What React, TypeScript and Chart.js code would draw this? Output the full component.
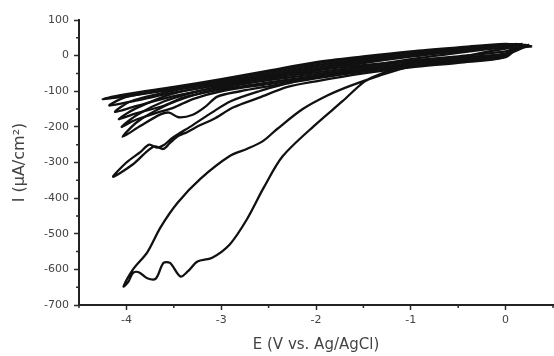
import React, { useEffect, useRef } from "react";
import { Chart, registerables } from "chart.js";

Chart.register(...registerables);

// Axis ticks
const xTicks = [-4, -3, -2, -1, 0];
const xMinor = [-4.5, -3.5, -2.5, -1.5, -0.5, 0.5];
const yTicks = [100, 0, -100, -200, -300, -400, -500, -600, -700];
const yMinor = [50, -50, -150, -250, -350, -450, -550, -650];

// Cycle 1 (largest loop), E in V, I in µA/cm²
const loop1E = [0.25, 0, -0.5, -1.0, -1.2, -1.36, -1.5, -1.72, -1.99, -2.35, -2.55, -2.73, -2.91, -3.1, -3.25, -3.35, -3.43, -3.54, -3.61, -3.69, -3.78, -3.87, -3.93, -3.98, -4.03,
  -3.93, -3.78, -3.64, -3.46, -3.22, -2.91, -2.73, -2.56, -2.41, -2.14, -1.88, -1.64, -1.33, -1.0, -0.5, 0, 0.25];
const loop1I = [30, 3, -12, -26, -40, -56, -75, -128, -190, -282, -370, -460, -530, -568, -578, -605, -620, -582, -582, -626, -625, -608, -610, -635, -648,
  -600, -552, -482, -413, -346, -282, -262, -240, -206, -150, -112, -85, -56, -30, -5, 20, 30];

// Cycle 2
const loop2E = [0.15, 0, -0.5, -1.0, -1.5, -2.0, -2.3, -2.6, -2.87, -3.08, -3.22, -3.36, -3.45, -3.54, -3.61, -3.7, -3.78, -3.93, -4.14,
  -4.0, -3.85, -3.76, -3.68, -3.6, -3.52, -3.3, -3.1, -2.9, -2.6, -2.3, -2.0, -1.5, -1.0, -0.5, 0, 0.15];
const loop2I = [30, -4, -20, -33, -50, -72, -88, -118, -145, -178, -195, -215, -225, -245, -262, -255, -268, -305, -340,
  -300, -270, -250, -258, -250, -232, -195, -160, -128, -100, -78, -58, -32, -10, 8, 24, 30];

// Cycle 3
const loop3E = [0.1, 0, -0.5, -1.0, -1.5, -2.0, -2.5, -2.8, -3.04, -3.17, -3.3, -3.45, -3.55, -3.64, -3.85, -4.04,
  -3.88, -3.6, -3.3, -3.0, -2.5, -2.0, -1.5, -1.0, -0.5, 0, 0.1];
const loop3I = [30, -3, -17, -29, -45, -64, -86, -100, -115, -144, -166, -173, -160, -165, -197, -228,
  -185, -142, -112, -92, -66, -42, -21, -3, 12, 25, 30];

// Later cycles (dense band)
const loop4E = [0.1, 0, -0.5, -1.0, -1.5, -2.0, -2.5, -3.0, -3.3, -3.5, -3.7, -3.9, -4.05,
  -3.88, -3.6, -3.3, -3.0, -2.5, -2.0, -1.5, -1.0, -0.5, 0, 0.1];
const loop4I = [31, -3, -15, -27, -43, -61, -80, -100, -122, -146, -162, -180, -200,
  -165, -128, -104, -86, -60, -37, -17, 0, 14, 26, 31];

const loop5E = [0.12, 0, -0.5, -1.0, -1.5, -2.0, -2.5, -3.0, -3.4, -3.6, -3.9, -4.08,
  -3.9, -3.5, -3.0, -2.5, -2.0, -1.5, -1.0, -0.5, 0, 0.12];
const loop5I = [33, -1, -13, -25, -40, -57, -75, -95, -118, -140, -162, -178,
  -148, -106, -80, -56, -32, -13, 3, 16, 28, 33];

const loop6E = [0.18, 0, -0.5, -1.0, -1.5, -2.0, -2.5, -3.0, -3.5, -3.9, -4.12,
  -3.95, -3.5, -3.0, -2.5, -2.0, -1.5, -1.0, -0.5, 0, 0.18];
const loop6I = [33, 2, -10, -21, -36, -52, -69, -88, -114, -142, -158,
  -128, -98, -75, -51, -27, -9, 6, 18, 30, 33];

const loop7E = [0.22, 0, -0.5, -1.0, -1.5, -2.0, -2.5, -3.0, -3.5, -3.9, -4.18,
  -4.0, -3.5, -3.0, -2.5, -2.0, -1.5, -1.0, -0.5, 0, 0.22];
const loop7I = [30, 6, -6, -17, -31, -47, -63, -82, -104, -126, -140,
  -116, -92, -70, -46, -22, -5, 9, 20, 31, 30];

const loop8E = [0.28, 0.1, 0, -0.5, -1.0, -1.5, -2.0, -2.5, -3.0, -3.5, -4.0, -4.25,
  -4.0, -3.5, -3.0, -2.5, -2.0, -1.5, -1.0, -0.5, 0, 0.28];
const loop8I = [26, 20, 12, -2, -14, -27, -40, -56, -74, -95, -114, -122,
  -108, -88, -66, -42, -18, -2, 12, 23, 33, 26];

const loops: [number[], number[]][] = [
  [loop1E, loop1I],
  [loop2E, loop2I],
  [loop3E, loop3I],
  [loop4E, loop4I],
  [loop5E, loop5I],
  [loop6E, loop6I],
  [loop7E, loop7I],
  [loop8E, loop8I],
];

const FONT = "'DejaVu Sans', 'Liberation Sans', Arial, sans-serif";
const INK = "#2a2a2a";
const LABEL = "#444";

const minorTicks = {
  id: "minorTicks",
  afterDraw(chart: any) {
    const { ctx, scales } = chart;
    const x = scales.x;
    const y = scales.y;
    ctx.save();
    ctx.strokeStyle = INK;
    ctx.lineWidth = 1.5;
    ctx.beginPath();
    xMinor.forEach((v) => {
      const px = x.getPixelForValue(v);
      ctx.moveTo(px, y.bottom);
      ctx.lineTo(px, y.bottom + 3);
    });
    yMinor.forEach((v) => {
      const py = y.getPixelForValue(v);
      ctx.moveTo(x.left, py);
      ctx.lineTo(x.left - 3, py);
    });
    ctx.stroke();
    ctx.restore();
  },
};

export default function App() {
  const ref = useRef<HTMLCanvasElement | null>(null);
  useEffect(() => {
    if (!ref.current) return;
    const datasets = loops.map(([es, is], k) => ({
      label: "cycle " + (k + 1),
      data: es.map((e, i) => ({ x: e, y: is[i] })),
      borderColor: "#111",
      borderWidth: 2.3,
      pointRadius: 0,
      tension: 0.3,
      fill: false,
    }));
    const chart = new Chart(ref.current, {
      type: "line",
      data: { datasets },
      plugins: [minorTicks],
      options: {
        animation: false,
        responsive: false,
        devicePixelRatio: 1,
        layout: { padding: { left: 0, right: 1, top: 20, bottom: 0 } },
        plugins: { legend: { display: false }, tooltip: { enabled: false } },
        scales: {
          x: {
            type: "linear",
            min: -4.5,
            max: 0.5,
            afterBuildTicks: (s: any) => {
              s.ticks = xTicks.map((v) => ({ value: v }));
            },
            afterFit: (s: any) => {
              s.height = 51;
            },
            ticks: {
              font: { family: FONT, size: 11 },
              color: LABEL,
              padding: 4,
              maxRotation: 0,
              callback: (v: any) => String(v),
            },
            grid: {
              drawOnChartArea: false,
              drawTicks: true,
              tickLength: 5,
              tickWidth: 1.5,
              tickColor: INK,
            },
            border: { display: true, color: "#222", width: 2 },
            title: {
              display: true,
              text: "E (V vs. Ag/AgCl)",
              font: { family: FONT, size: 15 },
              color: LABEL,
              padding: { top: 0, bottom: 2 },
            },
          },
          y: {
            type: "linear",
            min: -700,
            max: 100,
            afterBuildTicks: (s: any) => {
              s.ticks = yTicks.map((v) => ({ value: v }));
            },
            afterFit: (s: any) => {
              s.width = 79;
            },
            ticks: {
              font: { family: FONT, size: 11 },
              color: LABEL,
              padding: 5,
              callback: (v: any) => String(v),
            },
            grid: {
              drawOnChartArea: false,
              drawTicks: true,
              tickLength: 5,
              tickWidth: 1.5,
              tickColor: INK,
            },
            border: { display: true, color: "#222", width: 2 },
            title: {
              display: true,
              text: "I (μA/cm²)",
              font: { family: FONT, size: 16 },
              color: LABEL,
              padding: { top: 10, bottom: 0 },
            },
          },
        },
      },
    } as any);
    return () => chart.destroy();
  }, []);
  return (
    <div style={{ position: "absolute", left: 0, top: 0, width: 554, height: 356, background: "#fff" }}>
      <canvas ref={ref} width={554} height={356} />
    </div>
  );
}
